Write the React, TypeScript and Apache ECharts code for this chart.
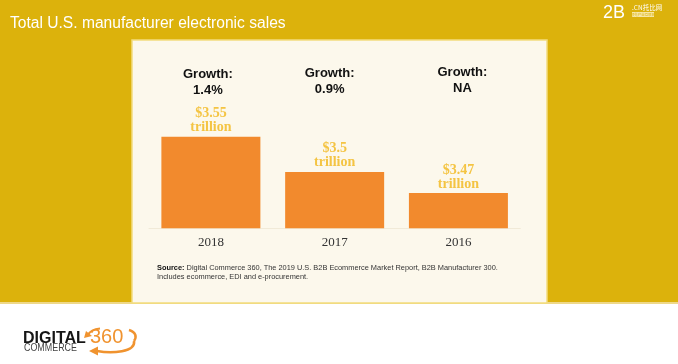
import React, { useEffect, useRef } from "react";
import * as echarts from "echarts";

const categories = ["2018", "2017", "2016"];
const sales = [3.55, 3.5, 3.47];
const salesLabels = ["$3.55", "$3.5", "$3.47"];
const growthLabels = ["1.4%", "0.9%", "NA"];
const titleText = "Total U.S. manufacturer electronic sales";
const sourceLine1 = "Digital Commerce 360, The 2019 U.S. B2B Ecommerce Market Report, B2B Manufacturer 300.";
const sourceLine2 = "Includes ecommerce, EDI and e-procurement.";

const YELLOW = "#DCB20C";
const CREAM = "#FCF8EC";
const ORANGE = "#F28A2D";
const GOLD = "#F4C443";
const LOGO_ORANGE = "#F0932F";

export default function App() {
  const ref = useRef<HTMLDivElement>(null);
  useEffect(() => {
    document.body.style.margin = "0";
    const chart = echarts.init(ref.current!, null, { renderer: "svg" });
    const baseGraphic: any[] = [
      { type: "rect", z: -10, shape: { x: 0, y: 0, width: 678, height: 303 }, style: { fill: YELLOW } },
      { type: "rect", z: -9, shape: { x: 0, y: 303, width: 678, height: 61 }, style: { fill: "#FFFFFF" } },
      { type: "rect", z: -9, shape: { x: 0, y: 302, width: 678, height: 2 }, style: { fill: "#EED88A" } },
      { type: "rect", z: -8, shape: { x: 132, y: 40, width: 415, height: 263 }, style: { fill: CREAM, stroke: "#F2DC7E", lineWidth: 1.5 } },
      {
        type: "text", left: 10, top: 14,
        style: { text: titleText, fill: "#FFFFFF", font: "15.6px 'Liberation Sans', Arial, sans-serif" },
      },
      {
        type: "text", x: 603, y: 3,
        style: { text: "2B", fill: "#FFFFFF", font: "18px 'Liberation Sans', Arial, sans-serif" },
      },
      {
        type: "text", x: 632, y: 4,
        style: { text: ".CN托比网", fill: "#FFFFFF", font: "6.5px 'Noto Sans CJK SC', sans-serif" },
      },
      { type: "rect", shape: { x: 632, y: 12, width: 22, height: 5 }, style: { fill: "#F6E7A8" } },
      {
        type: "text", x: 643, y: 14.5,
        style: { text: "领先产业互联网", fill: YELLOW, font: "3.5px 'Noto Sans CJK SC', sans-serif", align: "center", verticalAlign: "middle" },
      },
      {
        type: "text", x: 157, y: 272,
        style: {
          text: "{b|Source:} " + sourceLine1 + "\n" + sourceLine2,
          fill: "#333333",
          font: "7.4px 'Liberation Sans', Arial, sans-serif",
          lineHeight: 8.5,
          verticalAlign: "middle",
          rich: { b: { fontWeight: "bold", fontSize: 7.4, fontFamily: "'Liberation Sans', Arial, sans-serif", fill: "#111" } },
        },
      },
      {
        type: "text", x: 23, y: 329,
        style: { text: "DIGITAL", fill: "#151515", font: "bold 16px 'Liberation Sans', Arial, sans-serif" },
      },
      {
        type: "text", x: 24, y: 342, scaleX: 0.85,
        style: { text: "COMMERCE", fill: "#444444", font: "10.5px 'Liberation Sans', Arial, sans-serif" },
      },
      {
        type: "text", x: 90, y: 326,
        style: { text: "360", fill: LOGO_ORANGE, font: "20px 'Liberation Sans', Arial, sans-serif" },
      },
      // bottom sweeping arrow
      {
        type: "bezierCurve",
        shape: { x1: 134, y1: 341, x2: 97, y2: 351, cpx1: 136, cpy1: 352, cpx2: 112, cpy2: 354 },
        style: { stroke: LOGO_ORANGE, lineWidth: 2.5, fill: null },
      },
      {
        type: "polygon",
        shape: { points: [[89, 351], [98, 346.5], [98, 355.5]] },
        style: { fill: LOGO_ORANGE },
      },
      // right bracket
      {
        type: "bezierCurve",
        shape: { x1: 129, y1: 330, x2: 134, y2: 341, cpx1: 136, cpy1: 332, cpx2: 137, cpy2: 337 },
        style: { stroke: LOGO_ORANGE, lineWidth: 2.5, fill: null },
      },
      // top-left arrow
      {
        type: "bezierCurve",
        shape: { x1: 100, y1: 328.5, x2: 88, y2: 335, cpx1: 94, cpy1: 329, cpx2: 90, cpy2: 331 },
        style: { stroke: LOGO_ORANGE, lineWidth: 2.2, fill: null },
      },
      {
        type: "polygon",
        shape: { points: [[84, 338], [86, 331], [92, 336]] },
        style: { fill: LOGO_ORANGE },
      },
    ];
    const option: any = {
      animation: false,
      grid: { left: 149, right: 157.7, top: 136.7, bottom: 135.7 },
      xAxis: {
        type: "category",
        data: categories,
        axisLine: { show: true, lineStyle: { color: "#F1EAD8", width: 1 } },
        axisTick: { show: false },
        axisLabel: {
          color: "#333333",
          fontFamily: "'Liberation Serif', 'DejaVu Serif', serif",
          fontSize: 13,
          margin: 7,
        },
      },
      yAxis: { type: "value", min: 3.42, max: 3.55, show: false, splitLine: { show: false } },
      series: [
        {
          type: "bar",
          data: sales,
          barWidth: 99,
          itemStyle: { color: ORANGE },
          label: {
            show: true,
            position: "top",
            distance: 3,
            formatter: (p: any) => salesLabels[p.dataIndex] + "\ntrillion",
            color: GOLD,
            fontFamily: "'Liberation Serif', 'DejaVu Serif', serif",
            fontWeight: "bold",
            fontSize: 14,
            lineHeight: 14,
          },
        },
      ],
      graphic: baseGraphic,
    };
    chart.setOption(option);
    const offsets = [-3, -5, 4];
    const ys = [81, 80, 79];
    const growth = categories.map((c, i) => {
      const x = chart.convertToPixel({ xAxisIndex: 0 }, c) as number;
      return {
        type: "text",
        x: x + offsets[i],
        y: ys[i],
        style: {
          text: "Growth:\n" + growthLabels[i],
          fill: "#111111",
          font: "bold 13px 'Liberation Sans', Arial, sans-serif",
          align: "center",
          verticalAlign: "middle",
          lineHeight: 16,
        },
      };
    });
    chart.setOption({ graphic: [...baseGraphic, ...growth] });
    return () => chart.dispose();
  }, []);
  return <div ref={ref} style={{ position: "fixed", left: 0, top: 0, width: 678, height: 364 }} />;
}
